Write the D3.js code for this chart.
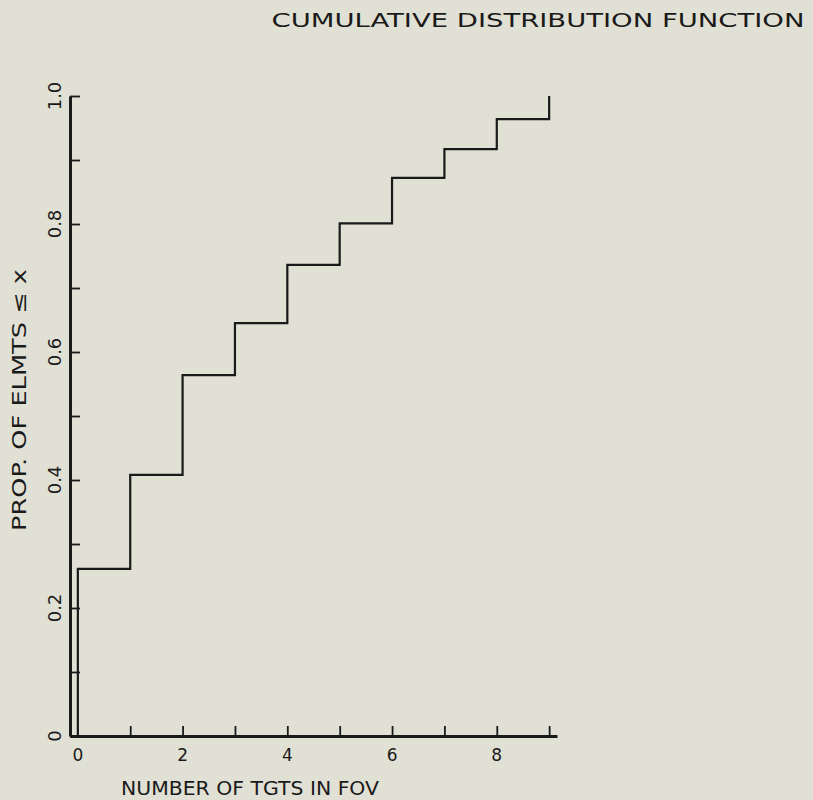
<!DOCTYPE html>
<html>
<head>
<meta charset="utf-8">
<script src="https://cdn.jsdelivr.net/npm/d3@7"></script>
<style>
body { margin: 0; background: #e1e0d4; }
svg { display: block; }
text { font-family: "DejaVu Sans", sans-serif; fill: #1a1a1a; }
</style>
</head>
<body>
<script>
"use strict";
const counts = [0, 1, 2, 3, 4, 5, 6, 7, 8, 9];
const cdf = [0.261, 0.408, 0.564, 0.645, 0.736, 0.801, 0.872, 0.917, 0.964, 1.0];
const xTickLabels = [0, 2, 4, 6, 8];
const yTickLabels = [0, 0.2, 0.4, 0.6, 0.8, 1.0];
const title = "CUMULATIVE DISTRIBUTION FUNCTION";
const xTitle = "NUMBER OF TGTS IN FOV";
const yTitle = "PROP. OF ELMTS \u2264 x";

const size = {"width": 813, "height": 800};
const svg = d3.select("body").append("svg").attr("width", size.width).attr("height", size.height);

const x = d3.scaleLinear().domain([-0.15, 9.15]).range([70, 557]);
const y = d3.scaleLinear().domain([0, 1]).range([736, 96]);
const ink = "#1a1a1a";

// step line, starts at (0,0)
const stepPts = [[0, 0]];
for (let i = 0; i < counts.length; i++) {
	stepPts.push([counts[i], cdf[i]]);
	if (i < counts.length - 1) stepPts.push([counts[i + 1], cdf[i]]);
}
svg.append("path")
	.attr("d", d3.line().x(d => x(d[0])).y(d => y(d[1]))(stepPts))
	.attr("fill", "none").attr("stroke", ink).attr("stroke-width", 2.2);

// x axis: ticks pointing up
const xAxis = d3.axisBottom(x).tickValues(d3.range(1, 10)).tickSize(-10).tickSizeOuter(0).tickFormat("");
const gx = svg.append("g").attr("transform", "translate(0," + y(0) + ")").call(xAxis);
gx.select(".domain").attr("stroke", ink).attr("stroke-width", 3);
gx.selectAll(".tick line").attr("stroke", ink).attr("stroke-width", 1.8);
svg.selectAll(".xlab").data(xTickLabels).enter().append("text")
	.attr("x", d => x(d)).attr("y", 761)
	.attr("text-anchor", "middle").attr("font-size", 17).text(d => d);

// y axis: ticks pointing right
const yAxis = d3.axisLeft(y).tickValues(d3.range(0, 11).map(d => d / 10)).tickSize(-10).tickSizeOuter(0).tickFormat("");
const gy = svg.append("g").attr("transform", "translate(" + x(-0.15) + ",0)").call(yAxis);
gy.select(".domain").attr("stroke", ink).attr("stroke-width", 3);
gy.selectAll(".tick line").attr("stroke", ink).attr("stroke-width", 1.8);
svg.selectAll(".ylab").data(yTickLabels).enter().append("text")
	.attr("transform", d => "translate(61," + y(d) + ") rotate(-90)")
	.attr("text-anchor", "middle").attr("font-size", 18)
	.text(d => d === 0 ? "0" : d.toFixed(1));

svg.append("text").attr("x", 538).attr("y", 27).attr("text-anchor", "middle")
	.attr("font-size", 19).attr("textLength", 533).attr("lengthAdjust", "spacingAndGlyphs").text(title);
svg.append("text").attr("x", 250).attr("y", 795).attr("text-anchor", "middle")
	.attr("font-size", 19).attr("textLength", 258).attr("lengthAdjust", "spacingAndGlyphs").text(xTitle);
svg.append("text").attr("transform", "translate(26,400) rotate(-90)").attr("text-anchor", "middle")
	.attr("font-size", 19).attr("textLength", 262).attr("lengthAdjust", "spacingAndGlyphs").text(yTitle);
</script>
</body>
</html>
